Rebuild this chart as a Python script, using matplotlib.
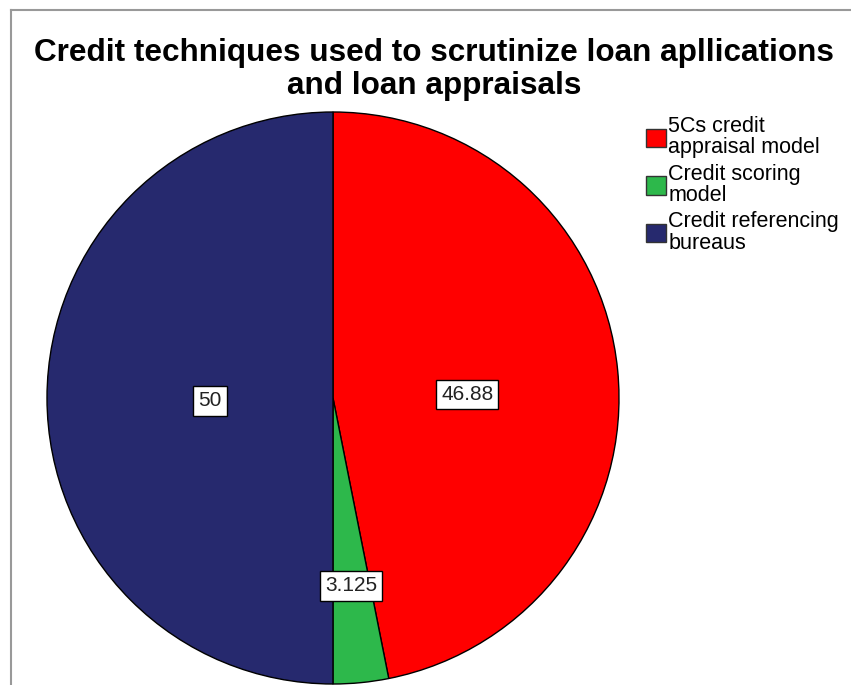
import numpy as np
from matplotlib import pyplot as plt
from matplotlib.patches import Patch
from matplotlib.lines import Line2D

# slice data, clockwise from 12 o'clock
categories = ['5Cs credit\nappraisal model', 'Credit scoring\nmodel', 'Credit referencing\nbureaus']
values = [46.88, 3.125, 50]
value_labels = ['46.88', '3.125', '50']
colors = ['#ff0000', '#2db84b', '#26296e']

plt.rcParams['font.family'] = ['Liberation Sans', 'DejaVu Sans']

fig = plt.figure(figsize=(8.51, 6.85), dpi=100)

# pie axes: centre (333, 398), radius 286 px
cx, cy, r = 333, 398, 286
W, H = 851, 685
ax = fig.add_axes([(cx - r) / W, 1 - (cy + r) / H, 2 * r / W, 2 * r / H])
wedges, _ = ax.pie(values, colors=colors, startangle=90, counterclock=False,
                   wedgeprops=dict(edgecolor='black', linewidth=1))
ax.set_xlim(-1, 1)
ax.set_ylim(-1, 1)
ax.set_aspect('auto')

# value labels inside the slices (offsets in pie radius units)
label_pos = [(0.469, 0.012), (0.063, -0.657), (-0.43, -0.01)]
for txt, (lx, ly) in zip(value_labels, label_pos):
    ax.text(lx, ly, txt, ha='center', va='center',
            fontsize=15, color='#222222',
            bbox=dict(boxstyle='square,pad=0.25', facecolor='white',
                      edgecolor='black', linewidth=1))

fig.text(434 / W, 1 - 69.5 / H,
         'Credit techniques used to scrutinize loan apllications\nand loan appraisals',
         ha='center', va='center', fontsize=22.7, fontweight='bold',
         linespacing=1.12)

handles = [Patch(facecolor=c, edgecolor='#333333', linewidth=1) for c in colors]
leg = fig.legend(handles, categories, loc='upper left',
                 bbox_to_anchor=(646 / W, 1 - 116 / H), frameon=False,
                 fontsize=15.5, handlelength=0.93, handleheight=0.93,
                 handletextpad=0.1, labelspacing=0.25, borderaxespad=0,
                 borderpad=0)
for t in leg.get_texts():
    t.set_linespacing(1.02)

# grey frame on top and left edges
fig.add_artist(Line2D([10.5 / W, 10.5 / W], [0, 1 - 9.5 / H], transform=fig.transFigure,
                      color='#999999', linewidth=1.5))
fig.add_artist(Line2D([10.5 / W, 1], [1 - 9.5 / H, 1 - 9.5 / H], transform=fig.transFigure,
                      color='#999999', linewidth=1.5))

fig.savefig('out.png', dpi=100)
